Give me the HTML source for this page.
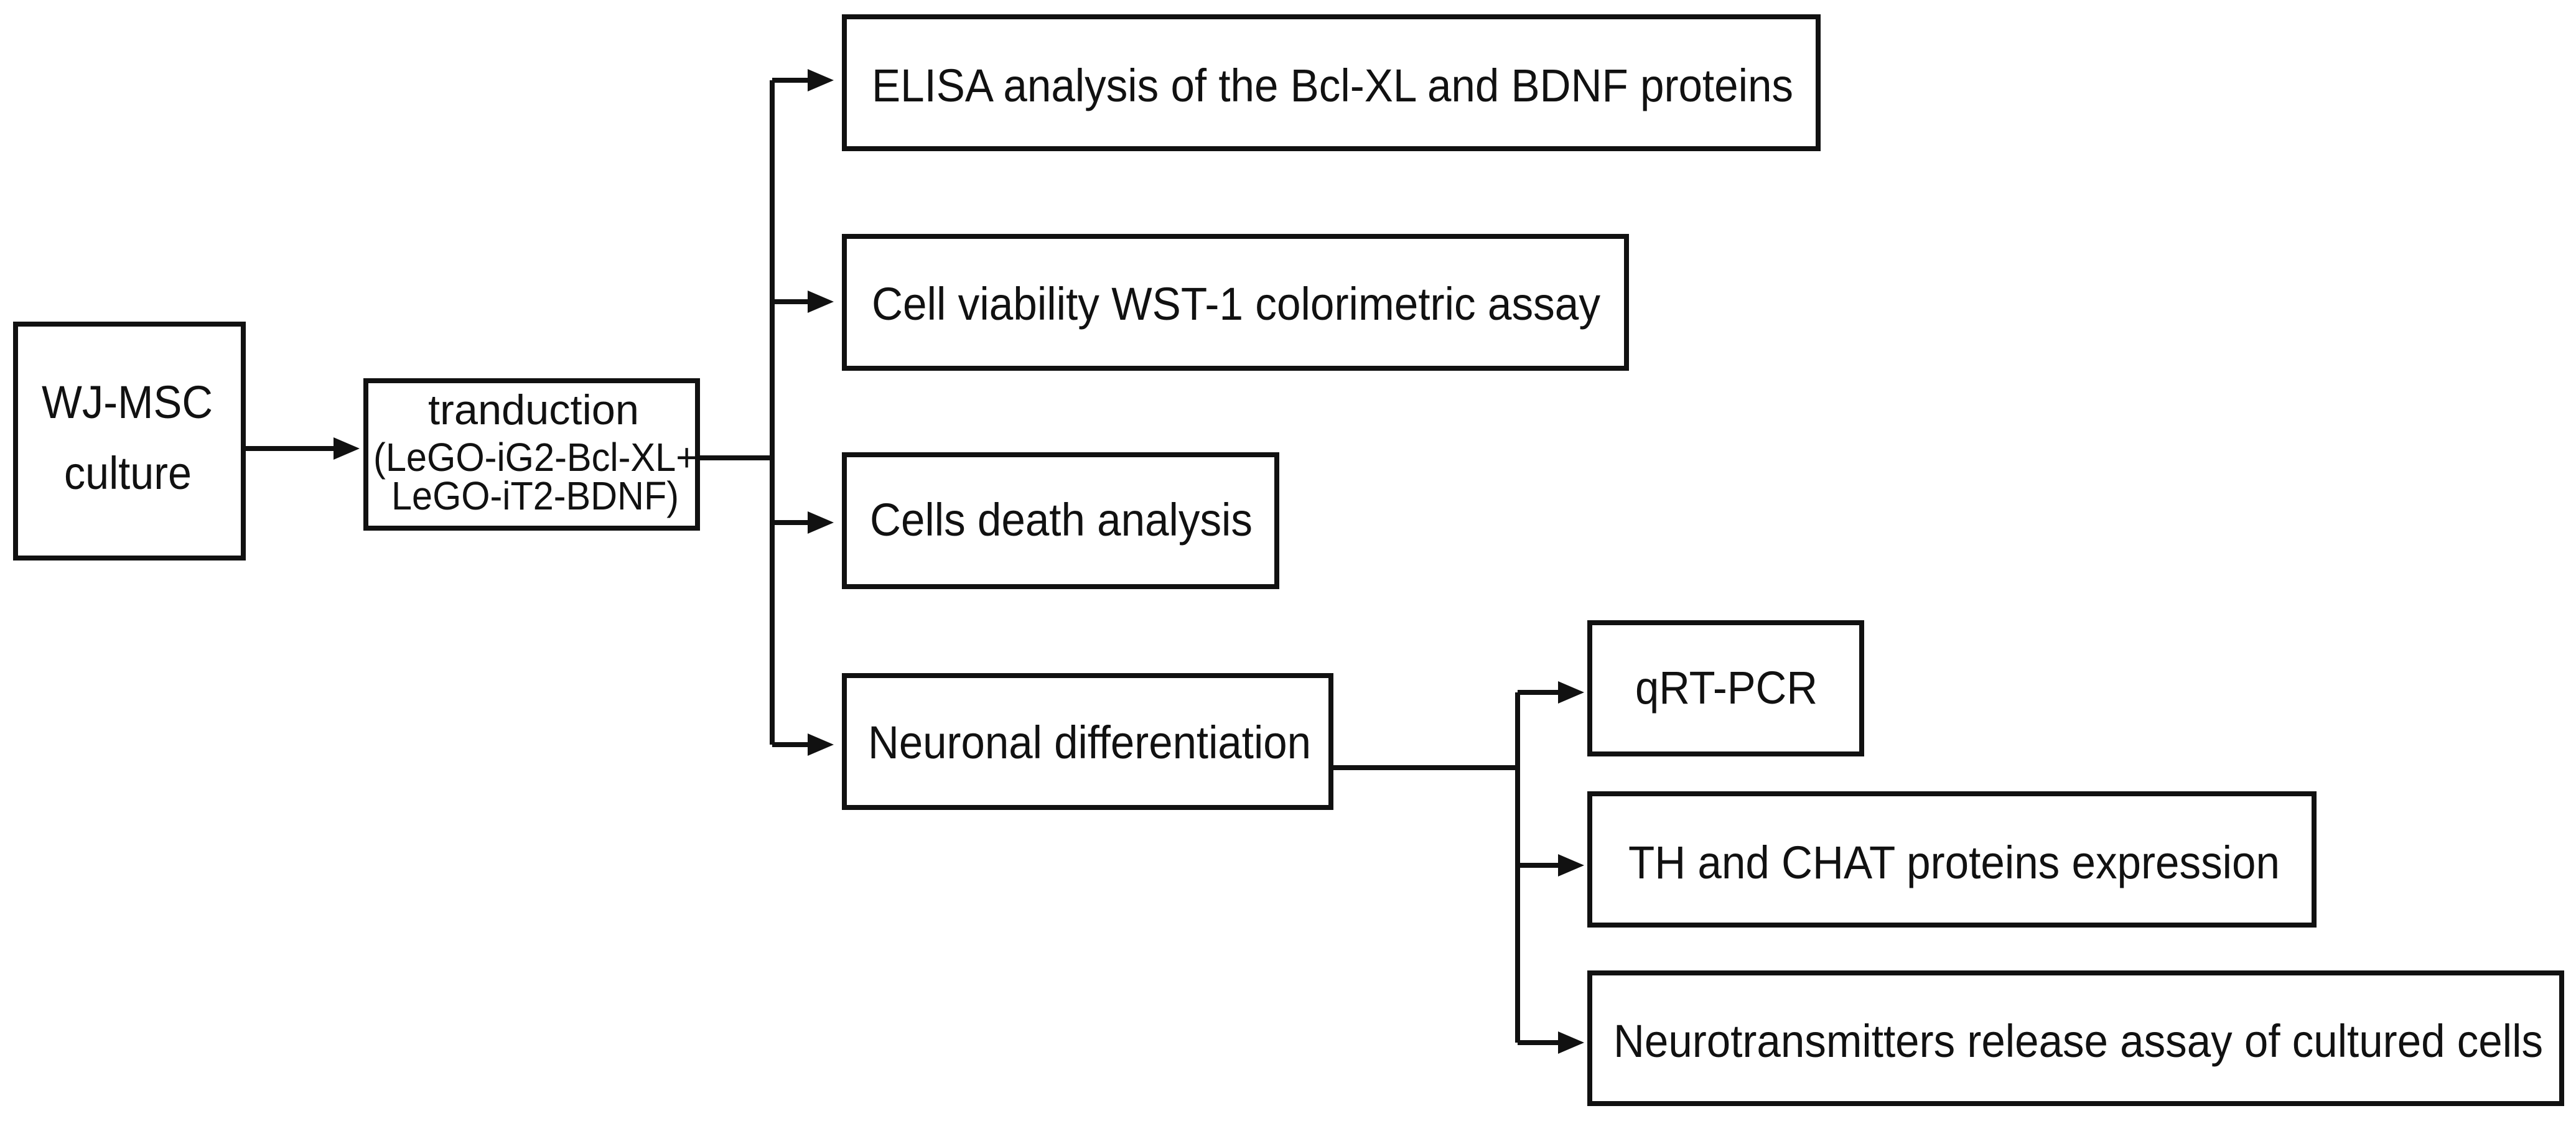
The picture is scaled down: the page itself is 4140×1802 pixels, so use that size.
<!DOCTYPE html>
<html><head><meta charset="utf-8"><style>html,body{margin:0;padding:0;background:#fff}svg{display:block}</style></head>
<body>
<svg width="4140" height="1802" viewBox="0 0 4140 1802" xmlns="http://www.w3.org/2000/svg" font-family="Liberation Sans, Arial, sans-serif" fill="#111">
<g fill="none" stroke="#111" stroke-width="8">
<rect x="25" y="521" width="366" height="376"/>
<rect x="588" y="612" width="533" height="237"/>
<rect x="1357" y="27" width="1565" height="212"/>
<rect x="1357" y="380" width="1257" height="212"/>
<rect x="1357" y="731" width="695" height="212"/>
<rect x="1357" y="1086" width="782" height="212"/>
<rect x="2555" y="1001" width="437" height="211"/>
<rect x="2555" y="1276" width="1164" height="211"/>
<rect x="2555" y="1564" width="1562" height="210"/>
<path d="M391 721H545"/>
<path d="M1121 736H1241M1241 129V1197M1241 129H1305M1241 485H1305M1241 840H1305M1241 1197H1305"/>
<path d="M2139 1234H2439M2439 1113V1676M2439 1113H2510M2439 1391H2510M2439 1676H2510"/>
</g>
<g stroke="none" fill="#111">
<polygon points="536,703 578,721 536,739"/>
<polygon points="1298,111 1340,129 1298,147"/>
<polygon points="1298,467 1340,485 1298,503"/>
<polygon points="1298,822 1340,840 1298,858"/>
<polygon points="1298,1179 1340,1197 1298,1215"/>
<polygon points="2504,1095 2546,1113 2504,1131"/>
<polygon points="2504,1373 2546,1391 2504,1409"/>
<polygon points="2504,1658 2546,1676 2504,1694"/>
</g>
<g font-size="74">
<text x="67" y="672" textLength="275" lengthAdjust="spacingAndGlyphs">WJ-MSC</text>
<text x="103" y="786" textLength="205" lengthAdjust="spacingAndGlyphs">culture</text>
<text x="688" y="682" font-size="68" textLength="339" lengthAdjust="spacingAndGlyphs">tranduction</text>
<text x="600" y="757" font-size="64" textLength="521" lengthAdjust="spacingAndGlyphs">(LeGO-iG2-Bcl-XL+</text>
<text x="629" y="819" font-size="64" textLength="462" lengthAdjust="spacingAndGlyphs">LeGO-iT2-BDNF)</text>
<text x="1401" y="163" textLength="1481" lengthAdjust="spacingAndGlyphs">ELISA analysis of the Bcl-XL and BDNF proteins</text>
<text x="1401" y="514" textLength="1171" lengthAdjust="spacingAndGlyphs">Cell viability WST-1 colorimetric assay</text>
<text x="1398" y="861" textLength="615" lengthAdjust="spacingAndGlyphs">Cells death analysis</text>
<text x="1395" y="1219" textLength="712" lengthAdjust="spacingAndGlyphs">Neuronal differentiation</text>
<text x="2628" y="1131" textLength="293" lengthAdjust="spacingAndGlyphs">qRT-PCR</text>
<text x="2617" y="1412" textLength="1047" lengthAdjust="spacingAndGlyphs">TH and CHAT proteins expression</text>
<text x="2593" y="1699" textLength="1494" lengthAdjust="spacingAndGlyphs">Neurotransmitters release assay of cultured cells</text>
</g>
</svg>
</body></html>
